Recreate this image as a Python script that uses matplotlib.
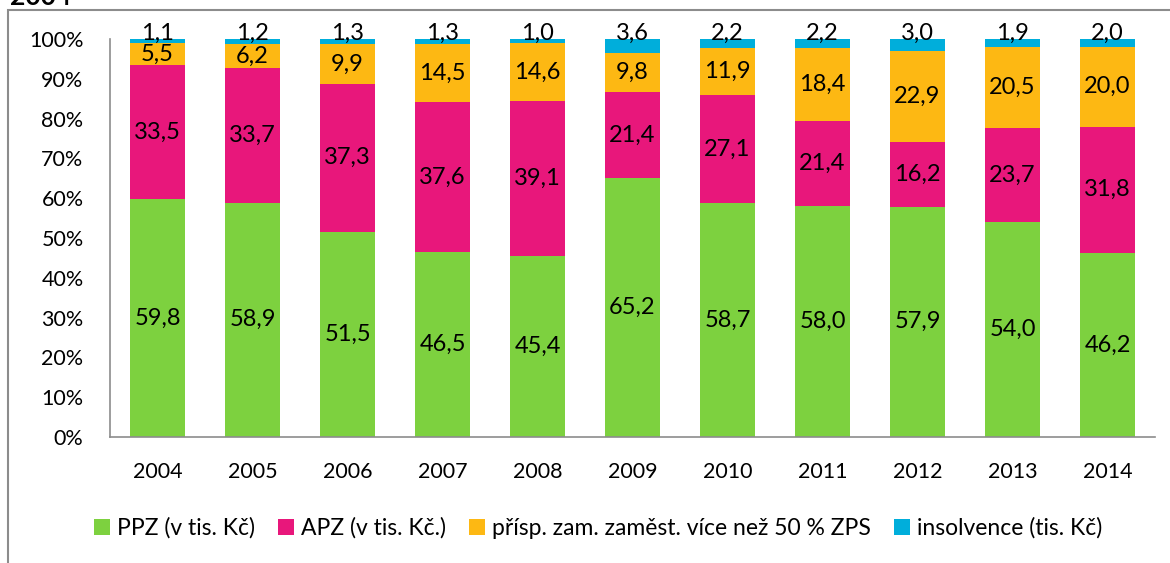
import numpy as np
import matplotlib.pyplot as plt
from matplotlib.patches import Rectangle

plt.rcParams['font.family'] = ['Lato', 'DejaVu Sans']

years = ['2004', '2005', '2006', '2007', '2008', '2009', '2010', '2011', '2012', '2013', '2014']
ppz = [59.8, 58.9, 51.5, 46.5, 45.4, 65.2, 58.7, 58.0, 57.9, 54.0, 46.2]
apz = [33.5, 33.7, 37.3, 37.6, 39.1, 21.4, 27.1, 21.4, 16.2, 23.7, 31.8]
prisp = [5.5, 6.2, 9.9, 14.5, 14.6, 9.8, 11.9, 18.4, 22.9, 20.5, 20.0]
insolv = [1.1, 1.2, 1.3, 1.3, 1.0, 3.6, 2.2, 2.2, 3.0, 1.9, 2.0]

names = ['PPZ (v tis. Kč)', 'APZ (v tis. Kč.)', 'přísp. zam. zaměst. více než 50 % ZPS', 'insolvence (tis. Kč)']
colors = ['#7dd13f', '#e8177b', '#fdb813', '#00aedb']

series = np.array([ppz, apz, prisp, insolv])
share = series / series.sum(axis=0) * 100

fig = plt.figure(figsize=(11.7, 5.63), dpi=100)
ax = fig.add_axes([110 / 1170, 1 - 437 / 563, 1045 / 1170, 398 / 563])

# outer chart frame (runs off the right/bottom like the screenshot)
fig.patches.append(Rectangle((8 / 1170, -0.05), 1.1, 1 - 10 / 563 + 0.05, transform=fig.transFigure,
                             fill=False, edgecolor='#8c8c8c', linewidth=1.5))
fig.text(10 / 1170, 1 - 5 / 563, '2004', fontsize=19, fontweight='bold', va='baseline', ha='left')

x = np.arange(len(years))
bottom = np.zeros(len(years))
for j in range(4):
    ax.bar(x, share[j], 0.57, bottom=bottom, color=colors[j], label=names[j], zorder=2)
    for i in range(len(years)):
        ypos = bottom[i] + share[j][i] / 2
        if j == 3:
            ypos = 101.5   # top labels sit just over the bar top
        ax.text(x[i], ypos, ('%.1f' % series[j][i]).replace('.', ','),
                ha='center', va='center', fontsize=17, color='black', zorder=3, clip_on=False)
    bottom += share[j]

ax.set_xlim(-0.5, len(years) - 0.5)
ax.set_ylim(0, 100)
ax.set_yticks(range(0, 101, 10))
ax.set_yticklabels([str(v) + '%' for v in range(0, 101, 10)], fontsize=15.5)
ax.set_xticks(x)
ax.set_xticklabels(years, fontsize=15.5)
ax.tick_params(axis='y', length=0, pad=19)
ax.tick_params(axis='x', length=0, pad=18)
for s in ['top', 'right']:
    ax.spines[s].set_visible(False)
for s in ['left', 'bottom']:
    ax.spines[s].set_color('#8c8c8c')
    ax.spines[s].set_linewidth(1.2)

fig.legend(loc='center', bbox_to_anchor=(598 / 1170, 1 - 528 / 563), ncol=4, frameon=False,
           fontsize=16.5, handlelength=0.7, handleheight=0.7, handletextpad=0.3, columnspacing=1.0)

fig.savefig('out.png', dpi=100)
